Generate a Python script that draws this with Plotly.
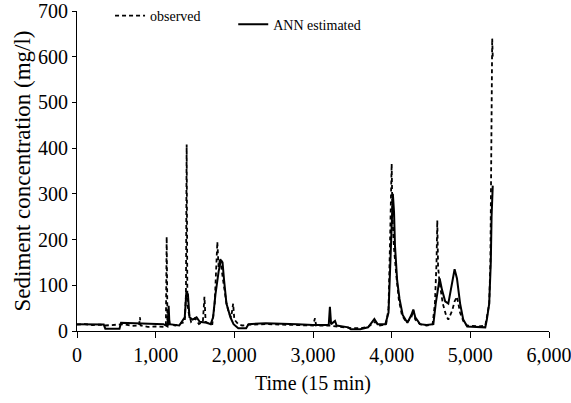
import plotly.graph_objects as go

# Observed sediment concentration (mg/l) vs time step (15 min)
obs_t = [0, 100, 200, 300, 360, 500, 600, 700, 790, 800, 810, 900, 1000, 1100, 1130, 1140, 1150,
         1165, 1180, 1250, 1300, 1370, 1385, 1394, 1403, 1420, 1450, 1500, 1550, 1600, 1620, 1635,
         1680, 1720, 1750, 1770, 1784, 1800, 1820, 1850, 1880, 1900, 1930, 1960, 1985, 2000, 2050,
         2100, 2200, 2400, 2600, 2800, 3000, 3025, 3040, 3200, 3300, 3500, 3600, 3700, 3790, 3850,
         3930, 3960, 3980, 4000, 4010, 4030, 4060, 4090, 4130, 4190, 4250, 4275, 4300, 4360, 4444,
         4520, 4550, 4570, 4580, 4590, 4610, 4650, 4690, 4720, 4770, 4800, 4830, 4870, 4920, 4960,
         5100, 5190, 5210, 5240, 5255, 5262, 5270, 5278, 5285]
obs_v = [14, 15, 13, 14, 12, 13, 15, 11, 12, 30, 12, 9, 10, 9, 12, 206, 12,
         30, 15, 12, 15, 20, 80, 408, 60, 40, 20, 28, 15, 20, 75, 20,
         15, 15, 60, 150, 195, 140, 160, 120, 80, 60, 40, 30, 60, 25, 15,
         12, 14, 15, 14, 13, 12, 28, 12, 12, 10, 6, 6, 9, 20, 12,
         15, 50, 200, 366, 250, 180, 120, 70, 35, 18, 30, 45, 25, 15, 12,
         15, 60, 150, 242, 140, 105, 60, 35, 25, 45, 65, 75, 40, 18, 12,
         10, 12, 30, 60, 150, 300, 500, 640, 600]

# ANN estimated sediment concentration (mg/l)
ann_t = [0, 340, 360, 540, 560, 800, 1000, 1100, 1150, 1165, 1175, 1300, 1370, 1390, 1410, 1430,
         1470, 1520, 1560, 1650, 1700, 1730, 1760, 1800, 1830, 1850, 1870, 1900, 1950, 1990, 2050,
         2150, 2180, 2400, 2800, 3000, 3200, 3215, 3230, 3280, 3300, 3450, 3480, 3600, 3700, 3780,
         3820, 3920, 3960, 3990, 4015, 4030, 4042, 4070, 4100, 4140, 4200, 4250, 4275, 4300, 4360,
         4444, 4530, 4560, 4590, 4610, 4640, 4680, 4720, 4760, 4800, 4830, 4870, 4910, 4960, 5190,
         5210, 5240, 5260, 5270, 5280, 5285]
ann_v = [15, 14, 5, 5, 18, 17, 16, 15, 10, 55, 15, 12, 30, 85, 80, 30,
         25, 30, 20, 18, 15, 30, 80, 130, 155, 150, 110, 60, 30, 15, 6,
         6, 15, 17, 15, 13, 13, 53, 15, 22, 12, 8, 4, 4, 8, 26,
         15, 15, 40, 180, 300, 260, 187, 110, 70, 35, 18, 35, 47, 30, 15,
         13, 15, 60, 100, 115, 90, 65, 60, 95, 135, 115, 60, 25, 10, 8,
         25, 60, 150, 250, 318, 318]

x_ticks = [0, 1000, 2000, 3000, 4000, 5000, 6000]
y_ticks = [0, 100, 200, 300, 400, 500, 600, 700]

FONT = "Liberation Serif, Times New Roman, serif"

fig = go.Figure()
fig.add_trace(go.Scatter(x=obs_t, y=obs_v, mode="lines", name="observed", legend="legend",
                         showlegend=True,
                         line=dict(color="black", width=1.8, dash="4px,3px")))
fig.add_trace(go.Scatter(x=ann_t, y=ann_v, mode="lines", name="ANN estimated", legend="legend2",
                         showlegend=True,
                         line=dict(color="black", width=2)))

leg_common = dict(xanchor="left", yanchor="top", font=dict(family=FONT, size=14),
                  bgcolor="rgba(0,0,0,0)")

fig.update_layout(
    width=571, height=403,
    margin=dict(l=77, r=22, t=0, b=72),
    showlegend=True,
    paper_bgcolor="white", plot_bgcolor="white",
    font=dict(family=FONT, size=20, color="black"),
    legend=dict(x=0.07, y=1.0, **leg_common),
    legend2=dict(x=0.331, y=0.974, **leg_common),
    xaxis=dict(range=[0, 6000], tickvals=x_ticks, tickformat=",d",
               ticklabeloverflow="allow", automargin=False,
               showgrid=False, zeroline=False, showline=True, linecolor="black",
               linewidth=1, ticks="outside", ticklen=6, tickcolor="black",
               title=dict(text="Time (15 min)", standoff=10, font=dict(size=20))),
    yaxis=dict(range=[0, 700], tickvals=y_ticks, domain=[0, 320 / 331],
               automargin=False,
               showgrid=False, zeroline=False, showline=True, linecolor="black",
               linewidth=1, ticks="outside", ticklen=4, tickcolor="black",
               title=dict(text="Sediment concentration (mg/l)", standoff=0,
                          font=dict(size=23))),
)

fig.write_html("out.html")
